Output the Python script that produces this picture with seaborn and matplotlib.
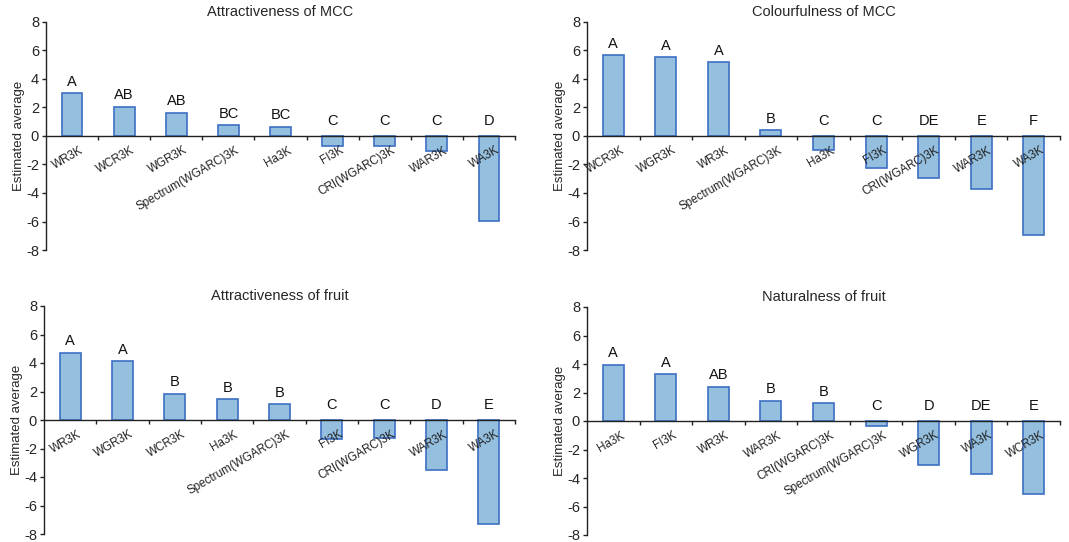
import matplotlib
matplotlib.use("Agg")
import matplotlib.pyplot as plt
import matplotlib.transforms as mtransforms
import seaborn as sns
import pandas as pd

sns.set_style("white")
plt.rcParams['font.family'] = ['Liberation Sans', 'DejaVu Sans']

# ---- data ----
titles = ["Attractiveness of MCC", "Colourfulness of MCC",
          "Attractiveness of fruit", "Naturalness of fruit"]

cats_1 = ["WR3K", "WCR3K", "WGR3K", "Spectrum(WGARC)3K", "Ha3K", "FI3K",
          "CRI(WGARC)3K", "WAR3K", "WA3K"]
vals_1 = [3.0, 2.06, 1.64, 0.75, 0.65, -0.68, -0.68, -1.03, -5.94]
lets_1 = ["A", "AB", "AB", "BC", "BC", "C", "C", "C", "D"]

cats_2 = ["WCR3K", "WGR3K", "WR3K", "Spectrum(WGARC)3K", "Ha3K", "FI3K",
          "CRI(WGARC)3K", "WAR3K", "WA3K"]
vals_2 = [5.69, 5.51, 5.2, 0.4, -0.99, -2.28, -2.92, -3.74, -6.92]
lets_2 = ["A", "A", "A", "B", "C", "C", "DE", "E", "F"]

cats_3 = ["WR3K", "WGR3K", "WCR3K", "Ha3K", "Spectrum(WGARC)3K", "FI3K",
          "CRI(WGARC)3K", "WAR3K", "WA3K"]
vals_3 = [4.72, 4.11, 1.85, 1.48, 1.10, -1.34, -1.24, -3.54, -7.3]
lets_3 = ["A", "A", "B", "B", "B", "C", "C", "D", "E"]

cats_4 = ["Ha3K", "FI3K", "WR3K", "WAR3K", "CRI(WGARC)3K", "Spectrum(WGARC)3K",
          "WGR3K", "WA3K", "WCR3K"]
vals_4 = [3.95, 3.27, 2.41, 1.43, 1.24, -0.33, -3.11, -3.74, -5.15]
lets_4 = ["A", "A", "AB", "B", "B", "C", "D", "DE", "E"]

yticks = [-8, -6, -4, -2, 0, 2, 4, 6, 8]

panels = [(cats_1, vals_1, lets_1), (cats_2, vals_2, lets_2),
          (cats_3, vals_3, lets_3), (cats_4, vals_4, lets_4)]

W, H = 1069, 542
fig = plt.figure(figsize=(W / 100, H / 100), dpi=100)

# axes rectangles in pixels: left, top, right, bottom
rects = [(46, 22, 515, 250), (587, 22, 1060, 250),
         (44, 306, 515, 534), (587, 307, 1060, 535)]

fill = "#94bfdf"
edge = "#3d6fc4"

for (cats, vals, lets), title, (l, t, r, b) in zip(panels, titles, rects):
    ax = fig.add_axes([l / W, 1 - b / H, (r - l) / W, (b - t) / H])
    df = pd.DataFrame({"cat": cats, "val": vals})
    sns.barplot(data=df, x="cat", y="val", ax=ax, color=fill, saturation=1,
                width=0.4, edgecolor=edge, linewidth=1.2, errorbar=None)
    for p in ax.patches:
        p.set_zorder(1)
    ax.set_xlim(-0.5, 8.5)
    ax.set_ylim(-8, 8)
    ax.set_yticks(yticks)
    ax.set_yticklabels([str(v) for v in yticks], fontsize=10.5)
    for s in ["top", "right"]:
        ax.spines[s].set_visible(False)
    ax.spines["bottom"].set_position(("data", 0))
    for s in ["left", "bottom"]:
        ax.spines[s].set_linewidth(1.0)
        ax.spines[s].set_color("#222222")
        ax.spines[s].set_zorder(6)
    ax.tick_params(axis="y", which="major", direction="out", length=3,
                   width=1.0, color="#222222", pad=2, left=True)
    ax.set_xticks(range(len(cats)))
    ax.set_xticks([i + 0.5 for i in range(len(cats))], minor=True)
    ax.tick_params(axis="x", which="major", length=0, pad=6)
    ax.tick_params(axis="x", which="minor", direction="out", length=3,
                   width=1.0, color="#222222", bottom=True)
    ax.set_xticklabels(cats, rotation=30, ha="right", rotation_mode="anchor",
                       fontsize=8.4, color="#222222")
    off = mtransforms.ScaledTranslation(7 / 100, 0, fig.dpi_scale_trans)
    for lab in ax.get_xticklabels():
        lab.set_transform(lab.get_transform() + off)
    ax.xaxis.set_zorder(5)
    ax.yaxis.set_zorder(5)
    ax.set_xlabel("")
    ax.set_ylabel("Estimated average", fontsize=9.5, labelpad=1)
    ax.set_title(title, fontsize=10.5, pad=4)
    for i, (v, s) in enumerate(zip(vals, lets)):
        y = v + 0.3 if v > 0 else 0.55
        ax.text(i, y, s, ha="center", va="bottom", fontsize=10.5,
                color="#111111")

fig.savefig("out.png", dpi=100, facecolor="white")
